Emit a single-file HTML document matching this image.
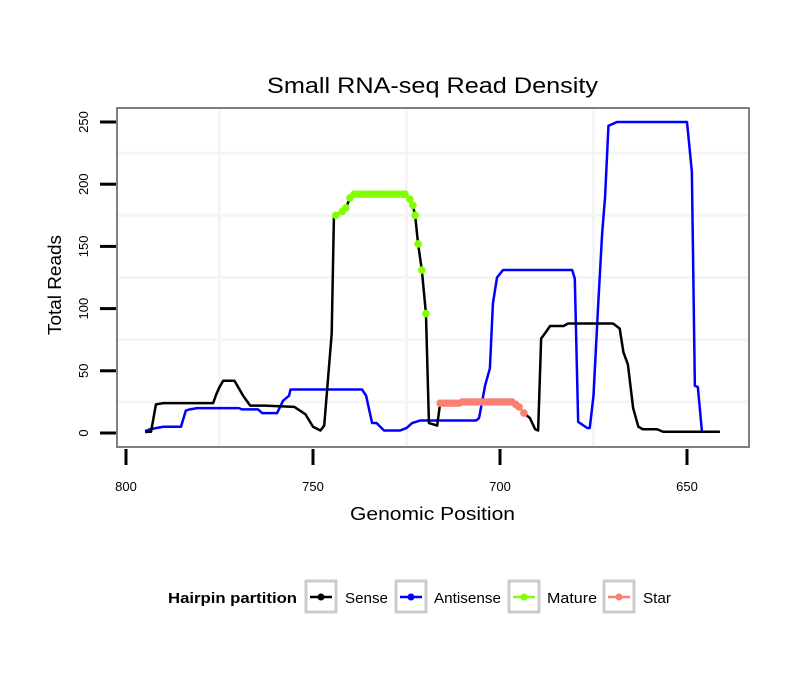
<!DOCTYPE html>
<html><head><meta charset="utf-8">
<style>
body{margin:0;background:#fff;}
svg text{font-family:"Liberation Sans",sans-serif;}
</style></head>
<body>
<svg id="chart" width="810" height="690">
<rect width="810" height="690" fill="#fff"/>
<text x="267" y="93" font-size="22" textLength="331" lengthAdjust="spacingAndGlyphs">Small RNA-seq Read Density</text>
<g id="grid"></g>
<g id="series"></g>
<rect x="117" y="108" width="632" height="339" fill="none" stroke="#7f7f7f" stroke-width="2"/>
<g id="axes"></g>
<text x="350" y="520" font-size="18" textLength="165" lengthAdjust="spacingAndGlyphs">Genomic Position</text>
<text transform="translate(61,335) rotate(-90)" font-size="18" textLength="100" lengthAdjust="spacingAndGlyphs">Total Reads</text>
<g>
<text x="168" y="603" font-size="15" font-weight="bold" textLength="129" lengthAdjust="spacingAndGlyphs">Hairpin partition</text>
<g>
<rect x="306" y="581" width="30" height="31" fill="#fff" stroke="#cccccc" stroke-width="3"/>
<line x1="310" y1="597" x2="332" y2="597" stroke="#000" stroke-width="2.5"/><circle cx="321" cy="597" r="3.5" fill="#000"/>
<text x="345" y="603" font-size="15" textLength="43" lengthAdjust="spacingAndGlyphs">Sense</text></g>
<g>
<rect x="396" y="581" width="30" height="31" fill="#fff" stroke="#cccccc" stroke-width="3"/>
<line x1="400" y1="597" x2="422" y2="597" stroke="#0000ff" stroke-width="2.5"/><circle cx="411" cy="597" r="3.5" fill="#0000ff"/>
<text x="434" y="603" font-size="15" textLength="67" lengthAdjust="spacingAndGlyphs">Antisense</text></g>
<g>
<rect x="509" y="581" width="30" height="31" fill="#fff" stroke="#cccccc" stroke-width="3"/>
<line x1="513" y1="597" x2="535" y2="597" stroke="#7fff00" stroke-width="2.5"/><circle cx="524" cy="597" r="3.5" fill="#7fff00"/>
<text x="547" y="603" font-size="15" textLength="50" lengthAdjust="spacingAndGlyphs">Mature</text></g>
<g>
<rect x="604" y="581" width="30" height="31" fill="#fff" stroke="#cccccc" stroke-width="3"/>
<line x1="608" y1="597" x2="630" y2="597" stroke="#fa8072" stroke-width="2.5"/><circle cx="619" cy="597" r="3.5" fill="#fa8072"/>
<text x="643" y="603" font-size="15" textLength="28" lengthAdjust="spacingAndGlyphs">Star</text></g>
</g>
</svg>
<script>
const xTicks = [800, 750, 700, 650];
const yTicks = [0, 50, 100, 150, 200, 250];
const senseX = [794.9,793.3,792,790,776.7,776,775,774,771,768.7,766.8,763,755,752,750,748,747,745,744.4];
const senseY = [0.8,1,23,24,24,30,37,42,42,30,22,22,21,15,5,2,6,80,175];
const matureX = [743.9,742.2,741.2,740.1,739,738,737,736,735,734,733,732,731,730,729,728,727,726,725.4,724.1,723.3,722.7,721.9,720.9,719.8];
const matureY = [175,178,181,189,192,192,192,192,192,192,192,192,192,192,192,192,192,192,192,188,183,175,152,131,96];
const senseMidX = [719.8,719,716.8,716];
const senseMidY = [96,8,6,24];
const starX = [716,715,714,713,712,711,710,709,708,707,706,705,704,703,702,701,700,699,698,697,696.8,695.8,694.9,693.6];
const starY = [24,24,24,24,24,24,25,25,25,25,25,25,25,25,25,25,25,25,25,25,25,23,21,16];
const senseEndX = [693.6,692,690.6,689.8,689,688,686.6,683,681.8,669.8,668,667,665.8,664.4,663,661.8,658,656.4,641.2];
const senseEndY = [16,12,3,2,76,80,86,86,88,88,84,65,55,20,5,3,3,1,1];
const antiX = [794.9,793.6,790,785.3,784,782.9,781,769.8,769,764.7,763.6,759.6,758,756.4,756,736.9,735.8,734.2,733,731,726.7,725,723.5,721.4,706.4,705.6,704,702.7,701.9,700.8,699.2,680.7,680,679.1,676.7,676,675,673.8,672.7,671.9,671,668.7,650,648.7,647.9,647.1,646];
const antiY = [1.6,3,5,5,18,19,20,20,19,19,16,16,26,30,35,35,30,8,8,2,2,4,8,10,10,12,38,52,104,125,131,131,124,9,4,4,30,100,160,190,247,250,250,210,38,37,1];

const xs = v => 126 + (800 - v) * 3.74;
const ys = v => 433 - v * 1.244;
const NS = 'http://www.w3.org/2000/svg';
const grid = document.getElementById('grid');
const axes = document.getElementById('axes');
const ser = document.getElementById('series');
function mk(tag, attrs, parent){const e=document.createElementNS(NS,tag);for(const k in attrs)e.setAttribute(k,attrs[k]);parent.appendChild(e);return e;}

for (let v = 25; v <= 250; v += 50) {
  const g = mk('line',{x1:118,x2:748,y1:ys(v),y2:ys(v),stroke:'#f4f4f4','stroke-width':3},grid);
  
  
}
for (let v = 775; v >= 625; v -= 50) {
  if (xs(v) < 118 || xs(v) > 748) continue;
  const g = mk('line',{x1:xs(v),x2:xs(v),y1:109,y2:446,stroke:'#f4f4f4','stroke-width':3},grid);
  
  
}
xTicks.forEach(v => {
  const t = mk('line',{x1:xs(v),x2:xs(v),y1:449,y2:465,stroke:'#000','stroke-width':3},axes);
  
  
  const l = mk('text',{x:xs(v),y:491,'text-anchor':'middle','font-size':13},axes);
  l.textContent = v;
  
  
});
yTicks.forEach(v => {
  const t = mk('line',{x1:100,x2:116,y1:ys(v),y2:ys(v),stroke:'#000','stroke-width':3},axes);
  
  
  const l = mk('text',{transform:`translate(88,${ys(v)}) rotate(-90)`,'text-anchor':'middle','font-size':13},axes);
  l.textContent = v;
  
  
});
function line(X, Y, color, name){
  const p = mk('polyline',{points:X.map((x,i)=>xs(x)+','+ys(Y[i])).join(' '),fill:'none',stroke:color,'stroke-width':2.5,'stroke-linejoin':'round'},ser);
  
  
}
function pts(X, Y, color, name){
  X.forEach((x,i)=>{
    const c = mk('circle',{cx:xs(x),cy:ys(Y[i]),r:3.8,fill:color},ser);
    
    
  });
}
line(antiX, antiY, '#0000ff', 'antisense-line');
line(senseX, senseY, '#000', 'sense-line');
line(senseMidX, senseMidY, '#000', 'sense-line-mid');
line(senseEndX, senseEndY, '#000', 'sense-line-end');
line(matureX, matureY, '#000', 'mature-line');
line(starX, starY, '#fa8072', 'star-line');
pts(matureX, matureY, '#7fff00', 'mature-point');
pts(starX, starY, '#fa8072', 'star-point');
</script>
</body></html>
